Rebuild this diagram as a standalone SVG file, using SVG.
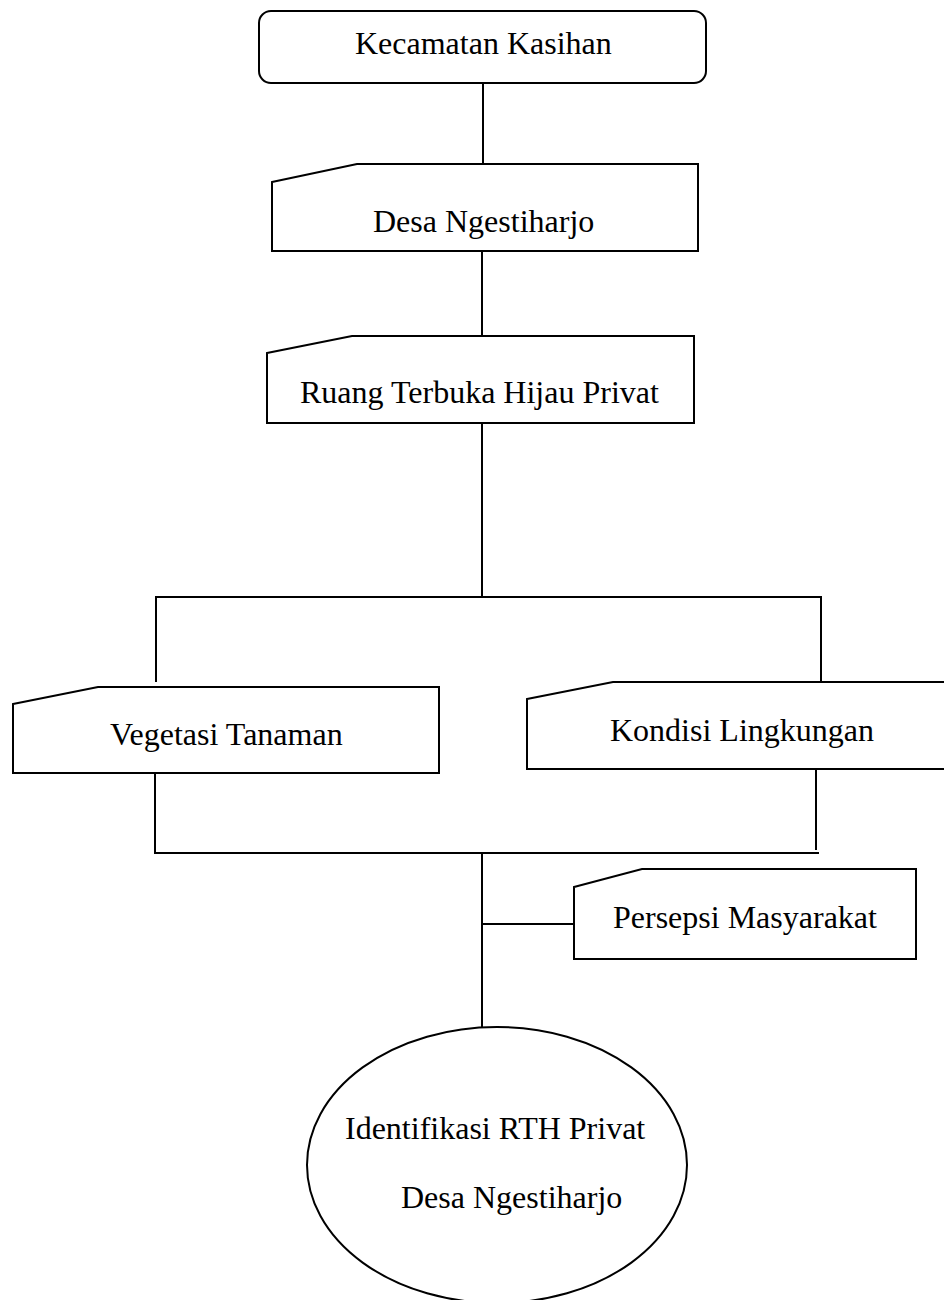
<svg xmlns="http://www.w3.org/2000/svg" width="944" height="1300" viewBox="0 0 944 1300">
<style>
.s{fill:#fff;stroke:#000;stroke-width:2}
.c{fill:none;stroke:#000;stroke-width:2}
text{font-family:"Liberation Serif","Times New Roman",serif;font-size:32px;fill:#000}
</style>
<rect width="944" height="1300" fill="#fff"/>
<g id="connectors">
<line class="c" x1="483" y1="83" x2="483" y2="164"/>
<line class="c" x1="482" y1="251" x2="482" y2="336"/>
<line class="c" x1="482" y1="423" x2="482" y2="597"/>
<line class="c" x1="155" y1="597" x2="822" y2="597"/>
<line class="c" x1="156" y1="597" x2="156" y2="682"/>
<line class="c" x1="821" y1="597" x2="821" y2="682"/>
<line class="c" x1="155" y1="771" x2="155" y2="853"/>
<line class="c" x1="816" y1="768" x2="816" y2="850"/>
<line class="c" x1="154" y1="853" x2="819" y2="853"/>
<line class="c" x1="482" y1="853" x2="482" y2="1028"/>
<line class="c" x1="482" y1="924" x2="574" y2="924"/>
</g>
<g id="kecamatan">
<rect class="s" x="259" y="11" width="447" height="72" rx="12"/>
<text x="355" y="54">Kecamatan Kasihan</text>
</g>
<g id="desa">
<path class="s" d="M272 182 L357 164 L698 164 L698 251 L272 251 Z"/>
<text x="373" y="232">Desa Ngestiharjo</text>
</g>
<g id="rth">
<path class="s" d="M267 353 L352 336 L694 336 L694 423 L267 423 Z"/>
<text x="300" y="403">Ruang Terbuka Hijau Privat</text>
</g>
<g id="vegetasi">
<path class="s" d="M13 704 L98 687 L439 687 L439 773 L13 773 Z"/>
<text x="110" y="745">Vegetasi Tanaman</text>
</g>
<g id="kondisi">
<path class="s" d="M527 699 L613 682 L952 682 L952 769 L527 769 Z"/>
<text x="610" y="741">Kondisi Lingkungan</text>
</g>
<g id="persepsi">
<path class="s" d="M574 887 L642 869 L916 869 L916 959 L574 959 Z"/>
<text x="613" y="928">Persepsi Masyarakat</text>
</g>
<g id="identifikasi">
<ellipse class="s" cx="497" cy="1165" rx="190" ry="138"/>
<text x="345" y="1139">Identifikasi RTH Privat</text>
<text x="401" y="1208">Desa Ngestiharjo</text>
</g>
</svg>
